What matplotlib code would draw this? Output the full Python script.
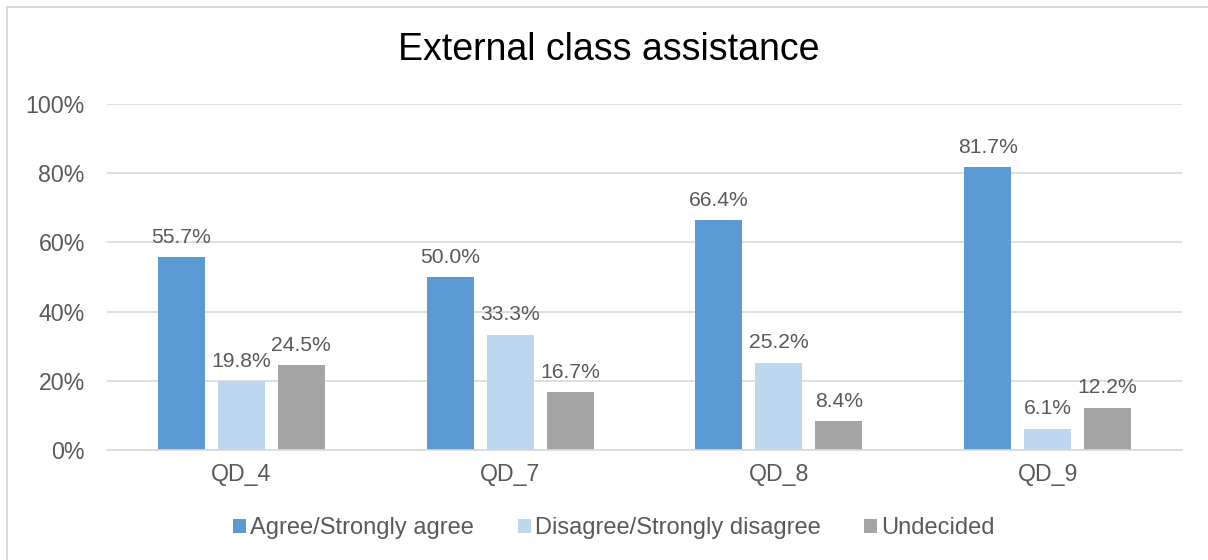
import matplotlib
matplotlib.use("Agg")
import matplotlib.pyplot as plt
import numpy as np
from matplotlib.lines import Line2D
from matplotlib.ticker import FuncFormatter

categories = ["QD_4", "QD_7", "QD_8", "QD_9"]
series_names = ["Agree/Strongly agree", "Disagree/Strongly disagree", "Undecided"]
agree = [55.7, 50.0, 66.4, 81.7]
disagree = [19.8, 33.3, 25.2, 6.1]
undecided = [24.5, 16.7, 8.4, 12.2]
series_values = [agree, disagree, undecided]
colors = ["#5B9BD5", "#BDD7EE", "#A5A5A5"]
yticks = [0, 20, 40, 60, 80, 100]
title = "External class assistance"

plt.rcParams['font.family'] = ['Liberation Sans', 'DejaVu Sans']
text_color = "#595959"
fs_tick = 16.7
fs_label = 15.2
fs_leg = 17

fig = plt.figure(figsize=(12.08, 5.6), dpi=100)
ax = fig.add_axes([107/1208, 1-450/560, (1182-107)/1208, (450-104)/560])

x = np.arange(len(categories))
width = 0.175
offset = 0.223
for i, (vals, name, c) in enumerate(zip(series_values, series_names, colors)):
    pos = x + (i - 1) * offset
    bars = ax.bar(pos, vals, width=width, color=c, label=name, zorder=3)
    for b, v in zip(bars, vals):
        ax.annotate(f"{v:.1f}%", (b.get_x() + b.get_width()/2, v),
                    xytext=(0, 7.5), textcoords="offset points",
                    ha="center", va="bottom", fontsize=fs_label, color=text_color)

ax.set_xlim(-0.5, len(categories) - 0.5)
ax.set_ylim(0, 100)
ax.set_yticks(yticks)
ax.yaxis.set_major_formatter(FuncFormatter(lambda v, p: f"{int(v)}%"))
ax.set_xticks(x)
ax.set_xticklabels(categories)
ax.grid(axis="y", color="#D9D9D9", linewidth=1.2, zorder=0)
for s in ["top", "right", "left"]:
    ax.spines[s].set_visible(False)
ax.spines["bottom"].set_color("#D9D9D9")
ax.spines["bottom"].set_linewidth(1.2)
ax.spines["bottom"].set_zorder(4)
ax.tick_params(axis="both", length=0, labelsize=fs_tick, labelcolor=text_color)
ax.tick_params(axis="y", pad=16)
ax.tick_params(axis="x", pad=9)

fig.text(609/1208, 1-50/560, title, ha="center", va="center",
         fontsize=27, color="black")

leg = fig.legend(loc="center", bbox_to_anchor=(614/1208, 1-528/560), ncol=3,
                 frameon=False, fontsize=fs_leg, handlelength=0.55, handleheight=0.55,
                 handletextpad=0.17, columnspacing=1.86, labelcolor=text_color)

# outer chart border (left and top visible; right/bottom cropped)
fig.add_artist(Line2D([7/1208, 7/1208], [0, 1-7/560], transform=fig.transFigure,
                      color="#D9D9D9", linewidth=1.5))
fig.add_artist(Line2D([7/1208, 1], [1-7/560, 1-7/560], transform=fig.transFigure,
                      color="#D9D9D9", linewidth=1.5))

fig.savefig("out.png", dpi=100)
